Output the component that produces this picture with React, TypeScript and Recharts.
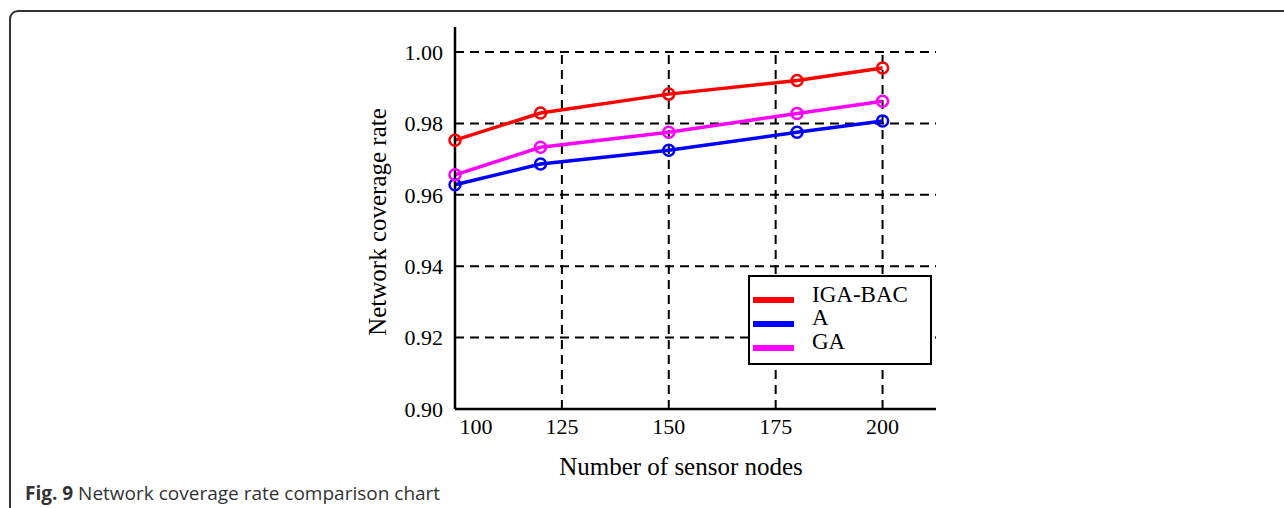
import {
  LineChart,
  Line,
  XAxis,
  YAxis,
  ReferenceLine,
  Legend,
} from "recharts";

// x: number of sensor nodes
const nodeCounts = [100, 120, 150, 180, 200];

// coverage rate per series
const igaBacRate = [0.9753, 0.9829, 0.9882, 0.992, 0.9955];
const aRate = [0.9628, 0.9686, 0.9725, 0.9775, 0.9807];
const gaRate = [0.9656, 0.9733, 0.9775, 0.9828, 0.9862];

const xTicks = [100, 125, 150, 175, 200];
const yTicks = [0.9, 0.92, 0.94, 0.96, 0.98, 1.0];
const horizontalGridY = [0.92, 0.94, 0.96, 0.98, 1.0];
const verticalGridX = [125, 150, 175, 200];

const SERIES = [
  { key: "igaBac", name: "IGA-BAC", color: "#ff0000" },
  { key: "a", name: "A", color: "#0000ff" },
  { key: "ga", name: "GA", color: "#ff00ff" },
];

const data = nodeCounts.map((n, i) => ({
  n,
  igaBac: igaBacRate[i],
  a: aRate[i],
  ga: gaRate[i],
}));

const SERIF = '"Liberation Serif", "Times New Roman", serif';
const DASH = "9 6";

function XTick(props: any) {
  const { x, y, payload } = props;
  const shift = payload.value === 100 ? 21 : 0;
  return (
    <text x={x + shift} y={y} dy="0.71em" textAnchor="middle" fontFamily={SERIF} fontSize={22} fill="#000">
      {payload.value}
    </text>
  );
}

function LegendBox() {
  return (
    <div
      style={{
        position: "relative",
        width: 184,
        height: 90,
        boxSizing: "border-box",
        border: "2px solid #000",
        background: "#fff",
        fontFamily: SERIF,
      }}
    >
      {SERIES.map((s, i) => (
        <div key={s.key}>
          <div
            style={{
              position: "absolute",
              left: 3,
              top: 20 + i * 23.8,
              width: 41,
              height: 6,
              background: s.color,
            }}
          />
          <div
            style={{
              position: "absolute",
              left: 62,
              top: 5 + i * 23.4,
              fontSize: 23,
              lineHeight: "26px",
              color: "#000",
            }}
          >
            {s.name}
          </div>
        </div>
      ))}
    </div>
  );
}

export default function App() {
  return (
    <div style={{ position: "fixed", left: 0, top: 0, width: 1284, height: 508, background: "#fff", overflow: "hidden" }}>
      {/* figure frame */}
      <div
        style={{
          position: "absolute",
          left: 9,
          top: 10,
          width: 1300,
          height: 520,
          borderTop: "2px solid #333",
          borderLeft: "2px solid #333",
          borderTopLeftRadius: 9,
        }}
      />
      <div style={{ position: "absolute", left: 0, top: 0 }}>
        <LineChart width={1284} height={508} data={data} margin={{ top: 27, right: 348, bottom: 39, left: 375 }}>
          {horizontalGridY.map((y) => (
            <ReferenceLine key={`h${y}`} y={y} stroke="#000" strokeWidth={2} strokeDasharray={DASH} />
          ))}
          {verticalGridX.map((x) => (
            <ReferenceLine
              key={`v${x}`}
              segment={[{ x, y: 0.9 }, { x, y: 1.0 }]}
              stroke="#000"
              strokeWidth={2}
              strokeDasharray={DASH}
            />
          ))}
          <XAxis
            dataKey="n"
            type="number"
            domain={[100, 212.5]}
            ticks={xTicks}
            tickLine={false}
            tickSize={0}
            tickMargin={9}
            height={60}
            axisLine={{ stroke: "#000", strokeWidth: 2.5 }}
            tick={<XTick />}
            label={{
              content: () => (
                <text x={681} y={475} textAnchor="middle" fontFamily={SERIF} fontSize={25} fill="#000">
                  Number of sensor nodes
                </text>
              ),
            }}
          />
          <YAxis
            type="number"
            domain={[0.9, 1.007]}
            ticks={yTicks}
            allowDataOverflow
            tickFormatter={(v: number) => v.toFixed(2)}
            tickLine={false}
            tickSize={0}
            tickMargin={12}
            width={80}
            axisLine={{ stroke: "#000", strokeWidth: 2.5 }}
            tick={{ fontFamily: SERIF, fontSize: 22, fill: "#000" }}
            label={{
              content: () => (
                <text
                  x={386}
                  y={222}
                  transform="rotate(-90 386 222)"
                  textAnchor="middle"
                  fontFamily={SERIF}
                  fontSize={25}
                  fill="#000"
                >
                  Network coverage rate
                </text>
              ),
            }}
          />
          <Legend
            layout="horizontal"
            verticalAlign="middle"
            align="center"
            content={<LegendBox />}
            wrapperStyle={{ position: "absolute", left: 748, top: 275, width: 184, height: 90 }}
          />
          {SERIES.map((s) => (
            <Line
              key={s.key}
              type="linear"
              dataKey={s.key}
              name={s.name}
              stroke={s.color}
              strokeWidth={3.5}
              dot={{ r: 5.5, stroke: s.color, strokeWidth: 2.5, fill: "none" }}
              activeDot={false}
              isAnimationActive={false}
            />
          ))}
        </LineChart>
      </div>
      <div
        style={{
          position: "absolute",
          left: 25,
          top: 480,
          fontFamily: '"Open Sans", sans-serif',
          fontSize: 19,
          color: "#333",
          whiteSpace: "nowrap",
        }}
      >
        <b>Fig. 9</b> Network coverage rate comparison chart
      </div>
    </div>
  );
}
